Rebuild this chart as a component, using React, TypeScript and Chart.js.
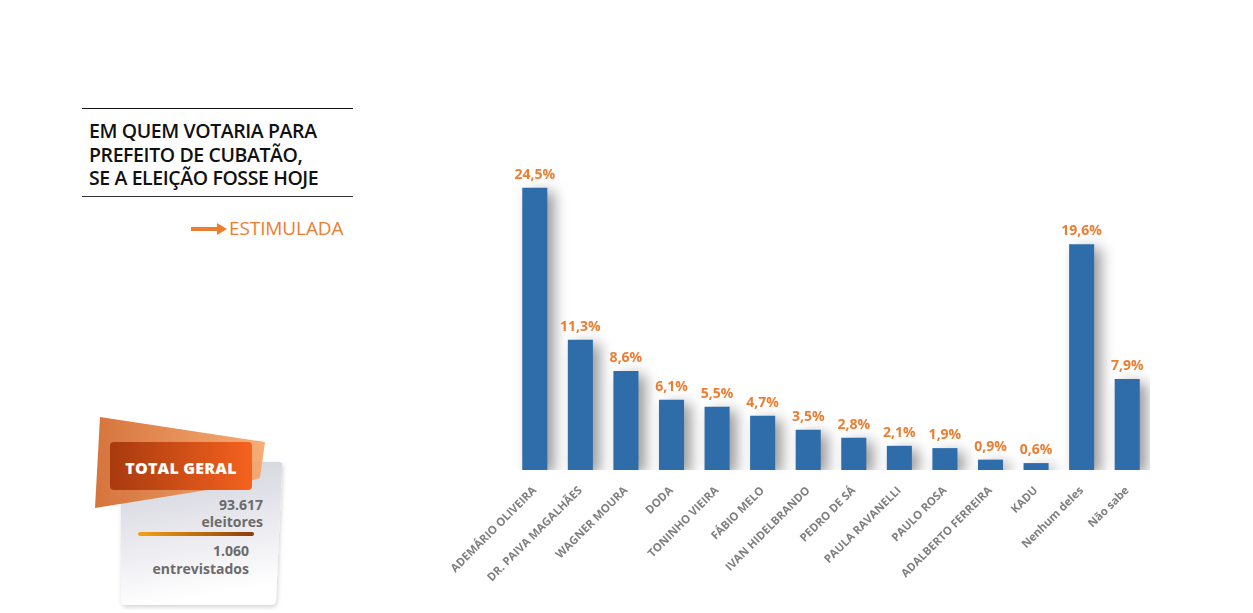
import React, { useEffect, useRef } from "react";
import { Chart, registerables } from "chart.js";

Chart.register(...registerables);

const categories = [
  "ADEMÁRIO OLIVEIRA",
  "DR. PAIVA MAGALHÃES",
  "WAGNER MOURA",
  "DODA",
  "TONINHO VIEIRA",
  "FÁBIO MELO",
  "IVAN HIDELBRANDO",
  "PEDRO DE SÁ",
  "PAULA RAVANELLI",
  "PAULO ROSA",
  "ADALBERTO FERREIRA",
  "KADU",
  "Nenhum deles",
  "Não sabe",
];
const values = [24.5, 11.3, 8.6, 6.1, 5.5, 4.7, 3.5, 2.8, 2.1, 1.9, 0.9, 0.6, 19.6, 7.9];

const titleLines = ["EM QUEM VOTARIA PARA", "PREFEITO DE CUBATÃO,", "SE A ELEIÇÃO FOSSE HOJE"];
const subtitle = "ESTIMULADA";
const totalLabel = "TOTAL GERAL";
const eleitores = ["93.617", "eleitores"];
const entrevistados = ["1.060", "entrevistados"];

const BAR_COLOR = "#2E6DA9";
const ORANGE = "#ED7D31";

const fmt = (v: number) => v.toFixed(1).replace(".", ",") + "%";

const shadowPlugin = {
  id: "barShadow",
  beforeDatasetsDraw(chart: any) {
    const ctx = chart.ctx;
    ctx.save();
    ctx.shadowColor = "rgba(0,0,0,0.4)";
    ctx.shadowBlur = 14;
    ctx.shadowOffsetX = 7;
    ctx.shadowOffsetY = 4;
  },
  afterDatasetsDraw(chart: any) {
    const ctx = chart.ctx;
    ctx.restore();
    const meta = chart.getDatasetMeta(0);
    ctx.save();
    ctx.font = "bold 14px 'Open Sans'";
    ctx.fillStyle = ORANGE;
    ctx.textAlign = "center";
    ctx.textBaseline = "bottom";
    meta.data.forEach((el: any, i: number) => {
      ctx.fillText(fmt(values[i]), el.x, el.y - 6);
    });
    ctx.restore();
  },
};

function Badge() {
  return (
    <svg
      width={200}
      height={200}
      style={{ position: "absolute", left: 88, top: 410 }}
      viewBox="88 410 200 200"
    >
      <defs>
        <linearGradient id="card" x1="0" y1="0" x2="0.2" y2="1">
          <stop offset="0" stopColor="#cfd0da" />
          <stop offset="0.6" stopColor="#ebebf0" />
          <stop offset="1" stopColor="#ffffff" />
        </linearGradient>
        <linearGradient id="outer" x1="0" y1="0" x2="1" y2="0">
          <stop offset="0" stopColor="#d2682c" />
          <stop offset="1" stopColor="#f7a66a" />
        </linearGradient>
        <linearGradient id="inner" x1="0" y1="0" x2="1" y2="0">
          <stop offset="0" stopColor="#a83a0e" />
          <stop offset="1" stopColor="#f4621f" />
        </linearGradient>
        <linearGradient id="bar" x1="0" y1="0" x2="1" y2="0">
          <stop offset="0" stopColor="#f2a310" />
          <stop offset="1" stopColor="#8a3d0c" />
        </linearGradient>
        <filter id="sh" x="-20%" y="-20%" width="140%" height="140%">
          <feDropShadow dx="1" dy="2" stdDeviation="2" floodColor="#000" floodOpacity="0.18" />
        </filter>
      </defs>
      <path
        d="M126 462 L279 462 Q283 462 282 467 L276 600 Q276 605 271 605 L126 605 Q121 605 121 600 L121 467 Q121 462 126 462 Z"
        fill="url(#card)"
        filter="url(#sh)"
      />
      <path d="M100 417 L265 442 L260 478 L232 486 L95 508 Z" fill="url(#outer)" opacity="0.92" />
      <rect x={110} y={442} width={142} height={48} rx={4} fill="url(#inner)" />
      <text
        x={181}
        y={474}
        textAnchor="middle"
        fill="#ffffff"
        fontFamily="'Open Sans'"
        fontWeight={800}
        fontSize={16}
        letterSpacing={0.2}
      >
        {totalLabel}
      </text>
      <text x={263} y={510} textAnchor="end" fill="#6b6b6b" fontFamily="'Open Sans'" fontWeight={700} fontSize={14}>
        {eleitores[0]}
      </text>
      <text x={263} y={527} textAnchor="end" fill="#6b6b6b" fontFamily="'Open Sans'" fontWeight={700} fontSize={14}>
        {eleitores[1]}
      </text>
      <rect x={138} y={532} width={116} height={4} rx={2} fill="url(#bar)" />
      <text x={249} y={556} textAnchor="end" fill="#6b6b6b" fontFamily="'Open Sans'" fontWeight={700} fontSize={14}>
        {entrevistados[0]}
      </text>
      <text x={249} y={574} textAnchor="end" fill="#6b6b6b" fontFamily="'Open Sans'" fontWeight={700} fontSize={14}>
        {entrevistados[1]}
      </text>
    </svg>
  );
}

export default function App() {
  const canvasRef = useRef<HTMLCanvasElement | null>(null);

  useEffect(() => {
    if (!canvasRef.current) return;
    const chart = new Chart(canvasRef.current, {
      type: "bar",
      data: {
        labels: categories,
        datasets: [
          {
            data: values,
            backgroundColor: BAR_COLOR,
            barPercentage: 0.55,
            categoryPercentage: 1,
          },
        ],
      },
      options: {
        animation: false,
        responsive: true,
        maintainAspectRatio: false,
        layout: { padding: { left: 132, right: 50, top: 29, bottom: 0 } },
        plugins: { legend: { display: false }, tooltip: { enabled: false } },
        scales: {
          x: {
            grid: { display: false },
            border: { display: false },
            afterFit: (scale: any) => {
              scale.height = 143;
            },
            ticks: {
              minRotation: 45,
              maxRotation: 45,
              padding: 6,
              color: "#7f7f7f",
              font: { family: "'Open Sans'", size: 11.3, weight: 700 },
            },
          },
          y: { display: false, min: 0, max: 27 },
        },
      },
      plugins: [shadowPlugin],
    });
    return () => chart.destroy();
  }, []);

  return (
    <div
      style={{
        position: "absolute",
        left: 0,
        top: 0,
        width: 1253,
        height: 613,
        background: "#ffffff",
        overflow: "hidden",
        fontFamily: "'Open Sans', sans-serif",
      }}
    >
      <div style={{ position: "absolute", left: 82, top: 108, width: 271, height: 1, background: "#111" }} />
      <div style={{ position: "absolute", left: 82, top: 196, width: 271, height: 1, background: "#333" }} />
      <div
        style={{
          position: "absolute",
          left: 89,
          top: 119,
          fontSize: 19.5,
          fontWeight: 650,
          lineHeight: "23.5px",
          color: "#111",
          letterSpacing: -0.4,
          whiteSpace: "nowrap",
        }}
      >
        {titleLines.map((t, i) => (
          <div key={i}>{t}</div>
        ))}
      </div>
      <svg width={40} height={14} style={{ position: "absolute", left: 190, top: 222 }}>
        <rect x={1} y={5} width={28} height={4} fill={ORANGE} />
        <path d="M27 1 L37 7 L27 13 Z" fill={ORANGE} />
      </svg>
      <div
        style={{
          position: "absolute",
          left: 229,
          top: 215,
          fontSize: 19,
          fontWeight: 500,
          color: ORANGE,
          letterSpacing: -0.1,
          whiteSpace: "nowrap",
        }}
      >
        {subtitle}
      </div>
      <Badge />
      <div style={{ position: "absolute", left: 380, top: 130, width: 820, height: 483 }}>
        <canvas ref={canvasRef} />
      </div>
    </div>
  );
}
